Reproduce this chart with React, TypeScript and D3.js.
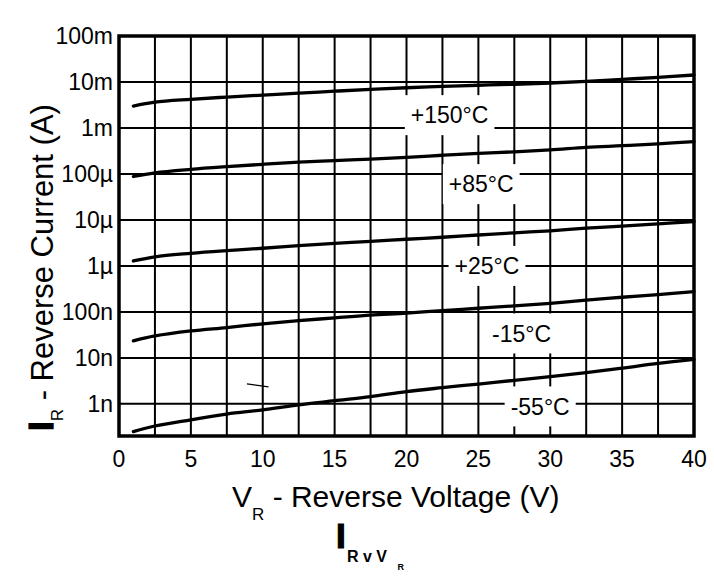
import React, { useEffect, useRef } from 'react';
import * as d3 from 'd3';

const voltages = [1, 2.5, 5, 7.5, 10, 12.5, 15, 17.5, 20, 22.5, 25, 27.5, 30, 32.5, 35, 37.5, 40];
const temps = ['+150°C', '+85°C', '+25°C', '-15°C', '-55°C'];
const i150 = [3.0e-3, 3.65e-3, 4.2e-3, 4.7e-3, 5.2e-3, 5.7e-3, 6.3e-3, 6.9e-3, 7.5e-3, 8.0e-3, 8.5e-3, 8.9e-3, 9.5e-3, 10.3e-3, 11.4e-3, 12.6e-3, 14.2e-3];
const i85 = [88e-6, 106e-6, 126e-6, 144e-6, 162e-6, 180e-6, 195e-6, 210e-6, 230e-6, 255e-6, 280e-6, 303e-6, 333e-6, 378e-6, 412e-6, 452e-6, 505e-6];
const i25 = [1.28e-6, 1.58e-6, 1.88e-6, 2.15e-6, 2.42e-6, 2.75e-6, 3.1e-6, 3.4e-6, 3.8e-6, 4.2e-6, 4.7e-6, 5.25e-6, 5.8e-6, 6.6e-6, 7.3e-6, 8.2e-6, 9.2e-6];
const im15 = [23.4e-9, 30e-9, 38.6e-9, 45.7e-9, 55e-9, 64.6e-9, 74e-9, 85e-9, 94e-9, 107e-9, 120e-9, 135e-9, 154e-9, 181e-9, 208e-9, 238e-9, 276e-9];
const im55 = [0.25e-9, 0.33e-9, 0.45e-9, 0.6e-9, 0.74e-9, 0.95e-9, 1.17e-9, 1.44e-9, 1.85e-9, 2.25e-9, 2.7e-9, 3.25e-9, 3.9e-9, 4.8e-9, 6.0e-9, 7.6e-9, 9.3e-9];
const series = [i150, i85, i25, im15, im55];

const labelV = [23, 25.2, 25.6, 28, 29.3];
const labelI = [1.9e-3, 6e-5, 1e-6, 3.4e-8, 8.8e-10];

const yTickValues = [1e-1, 1e-2, 1e-3, 1e-4, 1e-5, 1e-6, 1e-7, 1e-8, 1e-9];
const yTickLabels = ['100m', '10m', '1m', '100µ', '10µ', '1µ', '100n', '10n', '1n'];
const xTickValues = [0, 5, 10, 15, 20, 25, 30, 35, 40];
const xGridValues = [0, 2.5, 5, 7.5, 10, 12.5, 15, 17.5, 20, 22.5, 25, 27.5, 30, 32.5, 35, 37.5, 40];

const strayV = [8.9, 10.4];
const strayI = [2.72e-9, 2.34e-9];

const W = 714;
const H = 577;
const FONT = '"Liberation Sans", Arial, Helvetica, sans-serif';

export default function App() {
  const ref = useRef<SVGSVGElement | null>(null);

  useEffect(() => {
    const svg = d3.select(ref.current as SVGSVGElement);
    svg.selectAll('*').remove();

    const x = d3.scaleLinear().domain([0, 40]).range([119, 694]);
    const y = d3.scaleLog().domain([2e-10, 0.1]).range([436, 36]);

    svg.append('rect').attr('x', 0).attr('y', 0).attr('width', W).attr('height', H).attr('fill', '#fff');

    const grid = svg.append('g');
    grid.selectAll('line.v').data(xGridValues).enter().append('line')
      .attr('x1', d => x(d)).attr('x2', d => x(d))
      .attr('y1', y(0.1)).attr('y2', y(2e-10))
      .attr('stroke', '#000').attr('stroke-width', 2);
    grid.selectAll('line.h').data(yTickValues).enter().append('line')
      .attr('x1', x(0)).attr('x2', x(40))
      .attr('y1', d => y(d)).attr('y2', d => y(d))
      .attr('stroke', '#000').attr('stroke-width', 2);

    const boxes = svg.append('g');
    const curves = svg.append('g');
    const labels = svg.append('g');

    const line = d3.line<number>()
      .x((_, i) => x(voltages[i]))
      .y(d => y(d))
      .curve(d3.curveCatmullRom.alpha(0.5));
    series.forEach(s => {
      curves.append('path').attr('d', line(s) as string)
        .attr('fill', 'none').attr('stroke', '#000').attr('stroke-width', 3.3)
        .attr('stroke-linecap', 'round');
    });

    curves.append('line')
      .attr('x1', x(strayV[0])).attr('y1', y(strayI[0]))
      .attr('x2', x(strayV[1])).attr('y2', y(strayI[1]))
      .attr('stroke', '#000').attr('stroke-width', 1.3);

    temps.forEach((t, i) => {
      const cx = x(labelV[i]);
      const cy = y(labelI[i]);
      const txt = labels.append('text')
        .attr('x', cx).attr('y', cy + 8.2)
        .attr('text-anchor', 'middle')
        .attr('font-family', FONT).attr('font-size', 23)
        .attr('fill', '#000')
        .text(t);
      const bb = (txt.node() as SVGTextElement).getBBox();
      boxes.append('rect')
        .attr('x', bb.x - 6).attr('width', bb.width + 12)
        .attr('y', cy - 20).attr('height', 40)
        .attr('fill', '#fff');
    });

    svg.append('rect')
      .attr('x', x(0)).attr('y', y(0.1))
      .attr('width', x(40) - x(0)).attr('height', y(2e-10) - y(0.1))
      .attr('fill', 'none').attr('stroke', '#000').attr('stroke-width', 3.5);

    const yt = svg.append('g');
    yTickValues.forEach((v, i) => {
      yt.append('text').attr('x', 113).attr('y', y(v) + 8.3)
        .attr('text-anchor', 'end').attr('font-family', FONT).attr('font-size', 23)
        .attr('fill', '#000').text(yTickLabels[i]);
    });
    const xt = svg.append('g');
    xTickValues.forEach(v => {
      xt.append('text').attr('x', x(v)).attr('y', 466.7)
        .attr('text-anchor', 'middle').attr('font-family', FONT).attr('font-size', 23)
        .attr('fill', '#000').text(String(v));
    });

    // X axis title
    const xtitle = svg.append('text').attr('x', 232).attr('y', 506.7)
      .attr('font-family', FONT).attr('font-size', 30).attr('fill', '#000');
    xtitle.append('tspan').text('V');
    xtitle.append('tspan').attr('font-size', 17).attr('dy', 13.3).text('R');
    xtitle.append('tspan').attr('dy', -13.3).text(' - Reverse Voltage (V)');

    // Y axis title
    const ytitle = svg.append('text')
      .attr('transform', 'translate(52.5,431) rotate(-90)')
      .attr('font-family', FONT).attr('font-size', 31).attr('fill', '#000');
    ytitle.append('tspan').attr('font-size', 35).attr('font-weight', 'bold')
      .attr('stroke', '#000').attr('stroke-width', 1.2).text('I');
    ytitle.append('tspan').attr('font-size', 17).attr('dy', 10.5).text('R');
    ytitle.append('tspan').attr('dy', -10.5).text(' - Reverse Current (A)');

    // Caption
    const cap = svg.append('text').attr('x', 336).attr('y', 548.3)
      .attr('font-family', FONT).attr('font-weight', 'bold').attr('fill', '#000');
    cap.append('tspan').attr('font-size', 35).attr('stroke', '#000').attr('stroke-width', 1.2).text('I');
    cap.append('tspan').attr('x', 347).attr('dy', 13.4).attr('font-size', 16).text('R v V');
    cap.append('tspan').attr('x', 397.5).attr('dy', 8.3).attr('font-size', 9).text('R');
  }, []);

  return (
    <svg ref={ref} width={W} height={H}
      style={{ position: 'absolute', left: 0, top: 0, display: 'block' }} />
  );
}
